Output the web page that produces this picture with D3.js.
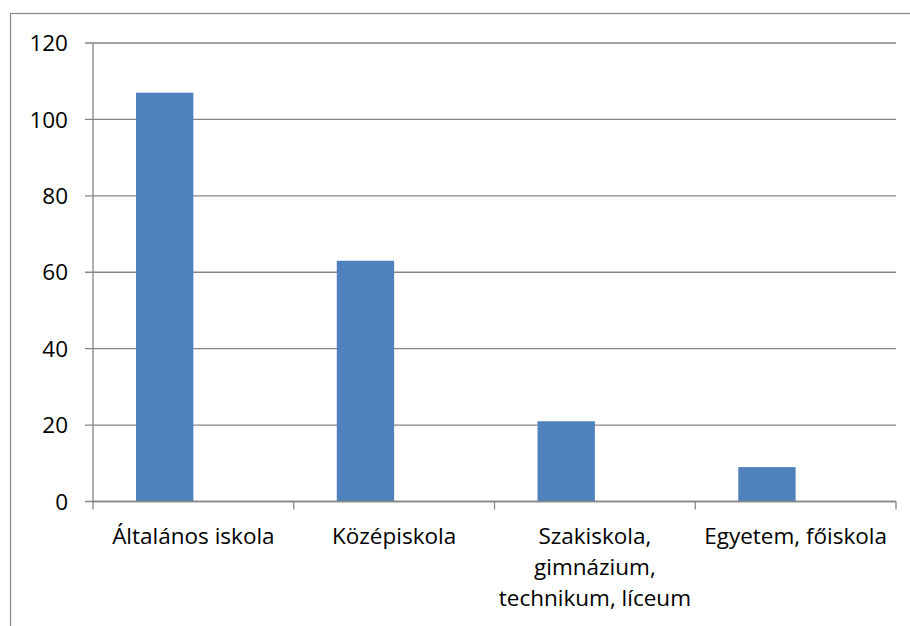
<!DOCTYPE html>
<html>
<head>
<meta charset="utf-8">
<script src="https://cdn.jsdelivr.net/npm/d3@7"></script>
<style>
  body { margin: 0; background: #fff; }
  svg text { font-family: "Open Sans", Lato, sans-serif; fill: #000; }
</style>
</head>
<body>
<div id="chart"></div>
<script>
const categories = ["Általános iskola", "Középiskola", "Szakiskola, gimnázium, technikum, líceum", "Egyetem, főiskola"];
const labelLines = [["Általános iskola"], ["Középiskola"], ["Szakiskola,", "gimnázium,", "technikum, líceum"], ["Egyetem, főiskola"]];
const series1 = [107, 63, 21, 9];
const series2 = [0, 0, 0, 0];
const yTicks = [0, 20, 40, 60, 80, 100, 120];

const W = 910, H = 626;
const margin = { top: 43, right: 14, bottom: 124.5, left: 93 };
const width = W - margin.left - margin.right;
const height = H - margin.top - margin.bottom;

const svg = d3.select("#chart")
  .append("svg")
    .attr("width", W)
    .attr("height", H);

// outer chart border (runs off the right and bottom edges)
svg.append("rect")
    .attr("x", 10.5).attr("y", 13.5)
    .attr("width", W + 20).attr("height", H + 20)
    .attr("fill", "none")
    .attr("stroke", "#868686")
    .attr("stroke-width", 1.2);

const g = svg.append("g")
    .attr("transform", `translate(${margin.left},${margin.top})`);

const x = d3.scaleBand()
    .domain(categories)
    .range([0, width])
    .paddingInner(0)
    .paddingOuter(0);

// two series per category, gap width 150%
const xSub = d3.scaleBand()
    .domain([0, 1])
    .range([0, x.bandwidth()])
    .paddingInner(0)
    .paddingOuter(0.75);

const y = d3.scaleLinear()
    .domain([0, 120])
    .range([height, 0]);

// gridlines
g.selectAll(".grid")
  .data(yTicks)
  .join("line")
    .attr("x1", -8).attr("x2", width)
    .attr("y1", d => y(d)).attr("y2", d => y(d))
    .attr("stroke", "#868686")
    .attr("stroke-width", 1.3);

// y tick labels
g.selectAll(".ylab")
  .data(yTicks)
  .join("text")
    .attr("x", -25)
    .attr("y", d => y(d))
    .attr("dy", "0.36em")
    .attr("text-anchor", "end")
    .style("font-size", "22.5px")
    .text(d => d);

// bars
const data = categories.map((c, i) => ({ c, vals: [series1[i], series2[i]] }));
const groups = g.selectAll(".cat")
  .data(data)
  .join("g")
    .attr("transform", d => `translate(${x(d.c)},0)`);

groups.selectAll("rect")
  .data(d => d.vals.map((v, k) => ({ k, v })))
  .join("rect")
    .attr("x", d => xSub(d.k))
    .attr("width", xSub.bandwidth())
    .attr("y", d => y(d.v))
    .attr("height", d => height - y(d.v))
    .attr("fill", "#4F81BD");

// y axis line
g.append("line")
    .attr("x1", 0).attr("x2", 0)
    .attr("y1", 0).attr("y2", height)
    .attr("stroke", "#868686")
    .attr("stroke-width", 1.3);

// x axis line and category ticks
g.append("line")
    .attr("x1", 0).attr("x2", width)
    .attr("y1", height).attr("y2", height)
    .attr("stroke", "#868686")
    .attr("stroke-width", 1.3);

const bounds = categories.map(c => x(c)).concat([width]);
g.selectAll(".xtick")
  .data(bounds)
  .join("line")
    .attr("x1", d => d).attr("x2", d => d)
    .attr("y1", height).attr("y2", height + 8)
    .attr("stroke", "#868686")
    .attr("stroke-width", 1.3);

// category labels
labelLines.forEach((lines, i) => {
  const t = g.append("text")
      .attr("x", x(categories[i]) + x.bandwidth() / 2)
      .attr("y", height + 42)
      .attr("text-anchor", "middle")
      .style("font-size", "22.5px");
  lines.forEach((ln, j) => {
    t.append("tspan")
      .attr("x", x(categories[i]) + x.bandwidth() / 2)
      .attr("dy", j === 0 ? 0 : 31)
      .text(ln);
  });
});
</script>
</body>
</html>
